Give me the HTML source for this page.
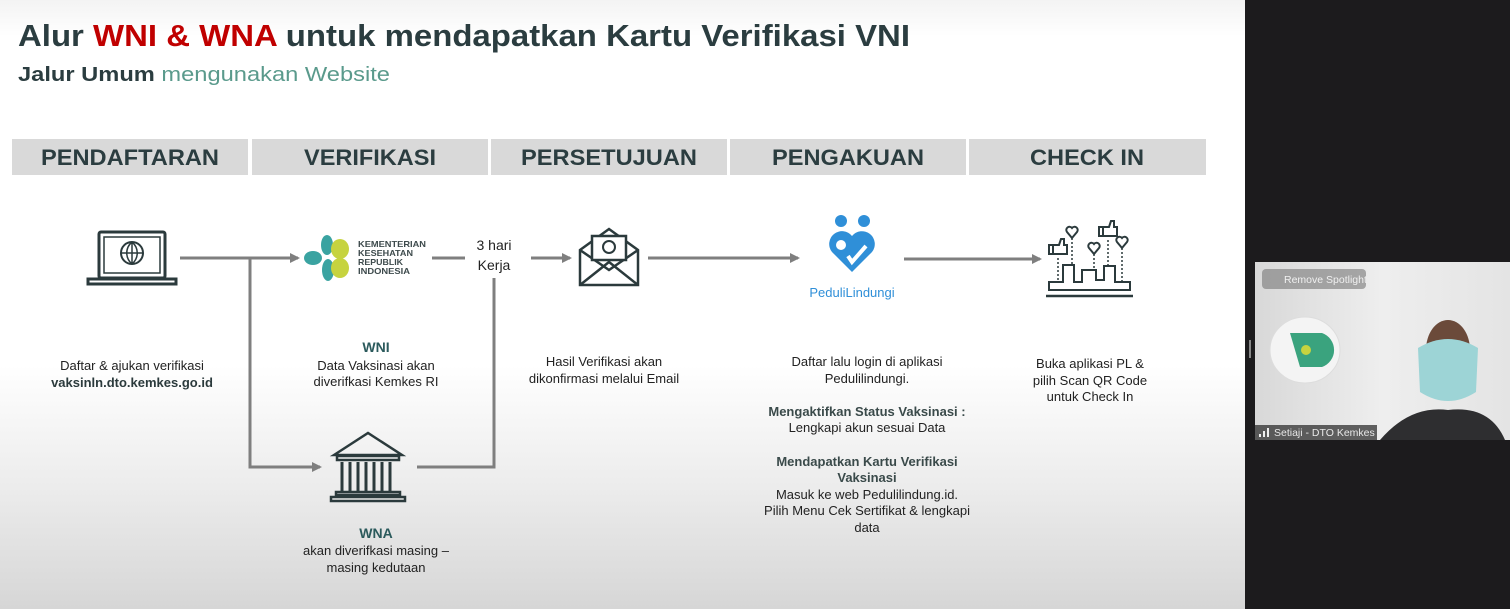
<!DOCTYPE html>
<html><head><meta charset="utf-8"><style>
html,body{margin:0;padding:0;width:1510px;height:609px;overflow:hidden;background:#fff}
svg{display:block}
text{font-family:"Liberation Sans",sans-serif}
</style></head><body>
<svg width="1510" height="609" viewBox="0 0 1510 609" xmlns="http://www.w3.org/2000/svg">
<defs>
<linearGradient id="bg" x1="0" y1="0" x2="0" y2="1">
<stop offset="0" stop-color="#f3f3f3"/><stop offset="0.06" stop-color="#ffffff"/><stop offset="0.6" stop-color="#ffffff"/><stop offset="0.8" stop-color="#ececec"/><stop offset="1" stop-color="#d6d6d6"/>
</linearGradient>
<linearGradient id="vid" x1="0" y1="0" x2="1" y2="0">
<stop offset="0" stop-color="#d8d8d8"/><stop offset="0.5" stop-color="#eeeeee"/><stop offset="1" stop-color="#e4e4e4"/>
</linearGradient>
<marker id="ah" markerWidth="10" markerHeight="10" refX="8" refY="5" orient="auto" markerUnits="userSpaceOnUse"><path d="M0,0 L10,5 L0,10 z" fill="#7f7f7f"/></marker>
</defs>
<rect width="1245" height="609" fill="url(#bg)"/>
<!-- title -->
<text x="18" y="46" font-size="31" font-weight="bold" fill="#2b3d40" textLength="892" lengthAdjust="spacingAndGlyphs">Alur <tspan fill="#c00000">WNI &amp; WNA</tspan> untuk mendapatkan Kartu Verifikasi VNI</text>
<text x="18" y="81" font-size="20" fill="#5a9a8c" textLength="372" lengthAdjust="spacingAndGlyphs"><tspan font-weight="bold" fill="#2b3d40">Jalur Umum</tspan> mengunakan Website</text>
<!-- header bar -->
<g fill="#d9d9d9">
<rect x="12" y="139" width="236" height="36"/><rect x="252" y="139" width="236" height="36"/><rect x="491" y="139" width="236" height="36"/><rect x="730" y="139" width="236" height="36"/><rect x="969" y="139" width="237" height="36"/>
</g>
<g font-size="22" font-weight="bold" fill="#2b3d40" text-anchor="middle">
<text x="130" y="165" textLength="178" lengthAdjust="spacingAndGlyphs">PENDAFTARAN</text>
<text x="370" y="165" textLength="132" lengthAdjust="spacingAndGlyphs">VERIFIKASI</text>
<text x="609" y="165" textLength="176" lengthAdjust="spacingAndGlyphs">PERSETUJUAN</text>
<text x="848" y="165" textLength="152" lengthAdjust="spacingAndGlyphs">PENGAKUAN</text>
<text x="1087" y="165" textLength="114" lengthAdjust="spacingAndGlyphs">CHECK IN</text>
</g>
<!-- connectors -->
<g stroke="#7f7f7f" stroke-width="3" fill="none">
<line x1="180" y1="258" x2="298" y2="258" marker-end="url(#ah)"/>
<polyline points="250,258 250,467 320,467" marker-end="url(#ah)"/>
<line x1="432" y1="258" x2="465" y2="258"/>
<polyline points="494,278 494,467 417,467"/>
<line x1="531" y1="258" x2="570" y2="258" marker-end="url(#ah)"/>
<line x1="648" y1="258" x2="798" y2="258" marker-end="url(#ah)"/>
<line x1="904" y1="259" x2="1040" y2="259" marker-end="url(#ah)"/>
</g>
<!-- laptop -->
<g stroke="#2b3a3c" stroke-width="3" fill="none">
<rect x="99" y="232" width="66" height="46" rx="2"/>
<rect x="104" y="237" width="56" height="36" stroke-width="1.5"/>
<path d="M88,279 H176 V284 H88 Z"/>
<circle cx="132" cy="253" r="11" stroke-width="2"/>
<path d="M121,253 H143 M132,242 V264 M132,242 C125,248 125,258 132,264 M132,242 C139,248 139,258 132,264" stroke-width="1.5"/>
</g>
<!-- kemenkes logo -->
<g>
<ellipse cx="313" cy="258" rx="9" ry="7" fill="#3aa3a1"/>
<ellipse cx="327" cy="245" rx="6" ry="10" fill="#3aa3a1"/>
<ellipse cx="328" cy="270" rx="6" ry="11" fill="#3aa3a1"/>
<ellipse cx="340" cy="249" rx="9" ry="10" fill="#c6d33f"/>
<ellipse cx="340" cy="268" rx="9" ry="10" fill="#c6d33f"/>
<g font-size="8.5" font-weight="bold" fill="#3d4a4c">
<text x="358" y="247" textLength="68" lengthAdjust="spacingAndGlyphs">KEMENTERIAN</text>
<text x="358" y="256" textLength="55" lengthAdjust="spacingAndGlyphs">KESEHATAN</text>
<text x="358" y="265" textLength="45" lengthAdjust="spacingAndGlyphs">REPUBLIK</text>
<text x="358" y="274" textLength="52" lengthAdjust="spacingAndGlyphs">INDONESIA</text>
</g>
</g>
<text x="494" y="250" font-size="14" fill="#222" text-anchor="middle">3 hari</text>
<text x="494" y="270" font-size="14" fill="#222" text-anchor="middle">Kerja</text>
<!-- envelope -->
<g stroke="#2b3a3c" stroke-width="2.5" fill="none">
<path d="M580,250 L609,229 L638,250 V285 H580 Z"/>
<path d="M580,285 L609,262 L638,285"/>
<path d="M580,250 L609,270 L638,250"/>
<rect x="592" y="236" width="34" height="24" fill="#fff"/>
<circle cx="609" cy="247" r="6" stroke-width="2"/>
</g>
<!-- pedulilindungi -->
<g fill="#2f8fd8">
<circle cx="841" cy="221" r="6"/><circle cx="864" cy="221" r="6"/>
<path d="M852,272 L832,252 A11,11 0 1 1 852,236 A11,11 0 1 1 872,252 Z"/>
<circle cx="841" cy="245" r="5" fill="#fff"/>
<path d="M848,256 L852,262 L866,246" stroke="#fff" stroke-width="4" fill="none"/>
</g>
<text x="852" y="297" font-size="13" fill="#2f8fd8" text-anchor="middle">PeduliLindungi</text>
<!-- check in icon -->
<g stroke="#2b3a3c" stroke-width="2.5" fill="none">
<path d="M1046,296 H1133"/>
<path d="M1049,290 V282 H1063 V265 H1074 V282 H1082 V270 H1096 V280 H1104 V266 H1115 V282 H1130 V290 Z" stroke-width="2"/>
<path d="M1058,258 V282 M1072,238 V265 M1094,254 V270 M1108,240 V266 M1122,248 V282" stroke-dasharray="2,2" stroke-width="1.5"/>
<path d="M1072,238 l-5,-6 a3,3 0 1 1 5,-4 a3,3 0 1 1 5,4 z" stroke-width="2"/>
<path d="M1094,254 l-5,-6 a3,3 0 1 1 5,-4 a3,3 0 1 1 5,4 z" stroke-width="2"/>
<path d="M1122,248 l-5,-6 a3,3 0 1 1 5,-4 a3,3 0 1 1 5,4 z" stroke-width="2"/>
<rect x="1049" y="245" width="4" height="9" stroke-width="2"/><path d="M1053,245 h6 l2,-6 h3 v6 h3 v9 h-14" stroke-width="2"/>
<rect x="1099" y="227" width="4" height="9" stroke-width="2"/><path d="M1103,227 h6 l2,-6 h3 v6 h3 v9 h-14" stroke-width="2"/>
</g>
<!-- museum -->
<g stroke="#2b3a3c" stroke-width="2.5" fill="none">
<path d="M334,455 L368,433 L402,455 Z"/>
<rect x="337" y="456" width="62" height="4"/>
<path d="M342,462 V492 M350,462 V492 M358,462 V492 M366,462 V492 M374,462 V492 M382,462 V492 M390,462 V492" stroke-width="3"/>
<rect x="336" y="492" width="64" height="3"/>
<rect x="331" y="497" width="74" height="4"/>
</g>
<!-- descriptions -->
<g font-size="13" fill="#222" text-anchor="middle">
<text x="132" y="370">Daftar &amp; ajukan verifikasi</text>
<text x="132" y="387" font-weight="bold" fill="#2b3a3c">vaksinln.dto.kemkes.go.id</text>
<text x="376" y="352" font-weight="bold" fill="#2b5a5c" font-size="14">WNI</text>
<text x="376" y="370">Data Vaksinasi akan</text>
<text x="376" y="386">diverifkasi Kemkes RI</text>
<text x="376" y="538" font-weight="bold" fill="#2b5a5c" font-size="14">WNA</text>
<text x="376" y="555">akan diverifkasi masing –</text>
<text x="376" y="572">masing kedutaan</text>
<text x="604" y="366">Hasil Verifikasi akan</text>
<text x="604" y="383">dikonfirmasi melalui Email</text>
<text x="867" y="366">Daftar lalu login di aplikasi</text>
<text x="867" y="383">Pedulilindungi.</text>
<text x="867" y="416" font-weight="bold" fill="#3a4a4a">Mengaktifkan Status Vaksinasi :</text>
<text x="867" y="432">Lengkapi akun sesuai Data</text>
<text x="867" y="466" font-weight="bold" fill="#3a4a4a">Mendapatkan Kartu Verifikasi</text>
<text x="867" y="482" font-weight="bold" fill="#3a4a4a">Vaksinasi</text>
<text x="867" y="499">Masuk ke web Pedulilindung.id.</text>
<text x="867" y="515">Pilih Menu Cek Sertifikat &amp; lengkapi</text>
<text x="867" y="532">data</text>
<text x="1090" y="368">Buka aplikasi PL &amp;</text>
<text x="1090" y="385">pilih Scan QR Code</text>
<text x="1090" y="401">untuk Check In</text>
</g>
<!-- right panel -->
<rect x="1245" y="0" width="265" height="609" fill="#1c1b1d"/>
<rect x="1249" y="340" width="2" height="18" fill="#888"/>
<rect x="1255" y="262" width="255" height="178" fill="url(#vid)"/>
<ellipse cx="1305" cy="350" rx="35" ry="33" fill="#f4f4f4" stroke="#ddd"/>
<path d="M1290,333 L1322,333 A18,18 0 0 1 1322,367 L1300,367 Z" fill="#3aa37e"/>
<circle cx="1306" cy="350" r="5" fill="#c6d33f"/>
<ellipse cx="1448" cy="350" rx="22" ry="30" fill="#6b4a3a"/>
<path d="M1418,348 Q1448,330 1478,348 L1476,392 Q1448,410 1420,392 Z" fill="#9dd4d6"/>
<path d="M1380,440 Q1410,405 1448,410 Q1490,405 1505,440 Z" fill="#2e2e30"/>
<rect x="1262" y="269" width="104" height="20" rx="4" fill="#777" opacity="0.6"/>
<text x="1284" y="283" font-size="10.5" fill="#f0f0f0">Remove Spotlight</text>
<rect x="1255" y="425" width="122" height="15" fill="#222" opacity="0.7"/>
<text x="1274" y="436" font-size="10.5" fill="#e8e8e8">Setiaji - DTO Kemkes</text>
<path d="M1259,437 v-3 h2 v3 z M1263,437 v-6 h2 v6 z M1267,437 v-9 h2 v9 z" fill="#eee"/>
</svg>
</body></html>
